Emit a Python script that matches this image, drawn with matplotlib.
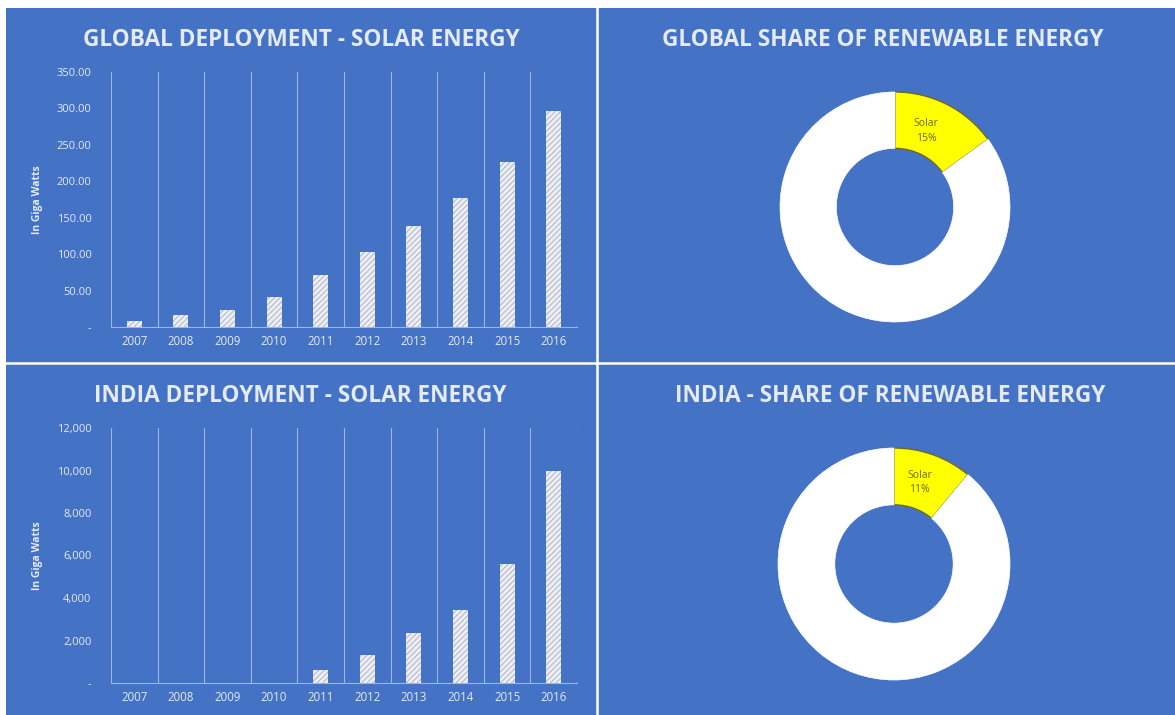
import matplotlib
matplotlib.use('Agg')
import matplotlib.pyplot as plt

# Data
years = ['2007', '2008', '2009', '2010', '2011', '2012', '2013', '2014', '2015', '2016']
global_gw = [8, 16, 24, 41, 71, 103, 139, 177, 227, 296]
india_gw = [0, 0, 0, 0, 610, 1300, 2350, 3430, 5590, 9970]

global_ticks = [0, 50, 100, 150, 200, 250, 300, 350]
global_tick_labels = ['-', '50.00', '100.00', '150.00', '200.00', '250.00', '300.00', '350.00']
india_ticks = [0, 2000, 4000, 6000, 8000, 10000, 12000]
india_tick_labels = ['-', '2,000', '4,000', '6,000', '8,000', '10,000', '12,000']

share_labels = ['Solar', 'Other']
global_share = [15, 85]
india_share = [11, 89]

# Colours
BLUE = '#4472c4'
TEXT = '#e4eaf6'
GRID = '#9fb6e3'

W, H = 1175, 715
plt.rcParams['font.family'] = ['Open Sans', 'DejaVu Sans']
plt.rcParams['hatch.linewidth'] = 0.6

fig = plt.figure(figsize=(W / 100, H / 100), dpi=100)
fig.patch.set_facecolor('white')


def px_box(left, top, right, bottom):
    # pixel box -> figure fraction [l, b, w, h]
    return [left / W, 1 - bottom / H, (right - left) / W, (bottom - top) / H]


# Background axes: blue backdrop, white dividers and titles
bg = fig.add_axes([0, 0, 1, 1], zorder=-1)
bg.set_xlim(0, W)
bg.set_ylim(H, 0)
bg.axis('off')
bg.axvspan(6, W, ymin=0, ymax=1 - 8 / H, color=BLUE, lw=0)
bg.plot([597, 597], [8, H], color='white', lw=1.8)
bg.plot([6, W], [363, 363], color='white', lw=1.8)

title_kw = dict(color=TEXT, fontsize=16.3, fontweight='bold', ha='center', va='center')
bg.text(301, 40, 'GLOBAL DEPLOYMENT - SOLAR ENERGY', **title_kw)
bg.text(883, 40, 'GLOBAL SHARE OF RENEWABLE ENERGY', **title_kw)
bg.text(300, 396, 'INDIA DEPLOYMENT - SOLAR ENERGY', **title_kw)
bg.text(890, 396, 'INDIA - SHARE OF RENEWABLE ENERGY', **title_kw)


def bar_panel(box, values, ticks, tick_labels, ymax):
    ax = fig.add_axes(box)
    ax.set_facecolor('none')
    x = list(range(len(years)))
    ax.bar(x, values, width=0.32, color='#eceef3', edgecolor='#a4abbd',
           hatch='//////', linewidth=0, zorder=3)
    for i in range(len(years) + 1):
        ax.axvline(i - 0.5, color=GRID, lw=0.8, zorder=1)
    ax.set_xlim(-0.5, len(years) - 0.5)
    ax.set_ylim(0, ymax)
    ax.set_xticks(x)
    ax.set_xticklabels(years, color=TEXT, fontsize=8.3)
    ax.set_yticks(ticks)
    ax.set_yticklabels(tick_labels, color=TEXT, fontsize=8)
    ax.tick_params(axis='x', length=0, pad=6)
    ax.tick_params(axis='y', length=0, pad=14)
    for s in ['top', 'right', 'left']:
        ax.spines[s].set_visible(False)
    ax.spines['bottom'].set_color(GRID)
    ax.spines['bottom'].set_linewidth(0.8)
    ax.set_ylabel('In Giga Watts', color=TEXT, fontsize=7.5, fontweight='bold')
    ax.yaxis.set_label_coords(-0.145, 0.5)
    return ax


bar_panel(px_box(111, 72, 577, 327), global_gw, global_ticks, global_tick_labels, 350)
bar_panel(px_box(111, 428, 577, 683), india_gw, india_ticks, india_tick_labels, 12000)


def donut(cx, cy, r, shares, pct, label_xy):
    ax = fig.add_axes(px_box(cx - r, cy - r, cx + r, cy + r))
    ax.set_facecolor('none')
    wedges, _ = ax.pie(shares, colors=['#ffff00', 'white'], startangle=90,
                       counterclock=False, radius=1,
                       wedgeprops=dict(width=0.49, linewidth=1.0))
    wedges[0].set_edgecolor('#6f6a2a')
    wedges[1].set_edgecolor('white')
    wedges[1].set_linewidth(0.5)
    ax.set_xlim(-1, 1)
    ax.set_ylim(-1, 1)
    ax.set_aspect('equal')
    ax.axis('off')
    ax.text(label_xy[0], label_xy[1], 'Solar\n' + pct, color='#6b6b1e',
            fontsize=7.5, ha='center', va='center', linespacing=1.4)


donut(895, 207, 115, global_share, '15%', (0.27, 0.66))
donut(894, 564, 116, india_share, '11%', (0.22, 0.70))

fig.savefig('out.png', dpi=100, facecolor=fig.get_facecolor())
